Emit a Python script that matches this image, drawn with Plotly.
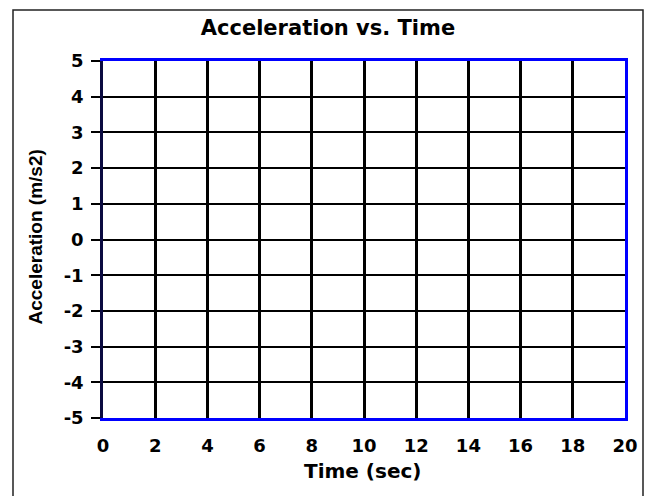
import plotly.graph_objects as go

# Data / tick definitions
time_ticks = [0, 2, 4, 6, 8, 10, 12, 14, 16, 18, 20]
accel_ticks = [-5, -4, -3, -2, -1, 0, 1, 2, 3, 4, 5]
chart_title = "Acceleration vs. Time"
x_title = "Time (sec)"
y_title = "Acceleration (m/s2)"

W, H = 651, 496
L, R, T, B = 103, 26, 61, 78
pw = W - L - R
ph = H - T - B

def px_x(x):
    return (x - L) / pw

def px_y(y):
    return (H - B - y) / ph

fig = go.Figure()
fig.add_trace(go.Scatter(x=time_ticks, y=[None] * len(time_ticks),
                         mode="lines", showlegend=False, hoverinfo="skip"))
fig.add_trace(go.Scatter(x=time_ticks, y=[None] * len(time_ticks), yaxis="y2",
                         mode="lines", showlegend=False, hoverinfo="skip"))

tick_font = dict(family="DejaVu Sans", size=18, color="black", weight="bold")

fig.update_layout(
    width=W, height=H,
    margin=dict(l=L, r=R, t=T, b=B, pad=0),
    paper_bgcolor="white", plot_bgcolor="white",
    showlegend=False,
    title=dict(text=chart_title, x=px_x(328), xref="paper", xanchor="center",
               y=1 - 27.5 / H, yref="container", yanchor="middle",
               font=dict(family="DejaVu Sans", size=21, color="black", weight="bold")),
    xaxis=dict(range=[time_ticks[0], time_ticks[-1]], tickvals=time_ticks,
               ticktext=[str(v) for v in time_ticks],
               showgrid=True, gridcolor="black", gridwidth=2.5,
               zeroline=False,
               showline=True, linecolor="#0000ff", linewidth=2.5, mirror=True,
               ticks="", ticklabelstandoff=10, tickfont=tick_font, fixedrange=True),
    yaxis=dict(range=[accel_ticks[0], accel_ticks[-1]], tickvals=accel_ticks,
               ticktext=[str(v) for v in accel_ticks],
               showgrid=True, gridcolor="black", gridwidth=2,
               zeroline=False,
               showline=True, linecolor="#0a0a40", linewidth=2.5, mirror=False,
               ticks="outside", ticklen=9, tickwidth=2, tickcolor="black",
               ticklabelstandoff=4, tickfont=tick_font, fixedrange=True),
    yaxis2=dict(range=[accel_ticks[0], accel_ticks[-1]], overlaying="y", side="right",
                showgrid=False, zeroline=False, showticklabels=False, ticks="",
                showline=True, linecolor="#0000ff", linewidth=3, fixedrange=True),
    annotations=[
        dict(text=x_title, x=px_x(362.5), y=px_y(471), xref="paper", yref="paper",
             xanchor="center", yanchor="middle", showarrow=False,
             font=dict(family="DejaVu Sans", size=20, color="black", weight="bold")),
        dict(text=y_title, x=px_x(35), y=px_y(237.5), xref="paper", yref="paper",
             xanchor="center", yanchor="middle", showarrow=False, textangle=-90,
             font=dict(family="Liberation Sans", size=19, color="black", weight="bold")),
    ],
    shapes=[
        dict(type="rect", xref="paper", yref="paper",
             x0=px_x(13), x1=px_x(643), y0=px_y(505), y1=px_y(10),
             line=dict(color="#222222", width=1.5), fillcolor="rgba(0,0,0,0)",
             layer="below"),
    ],
)

fig.write_html("out.html", config={"displayModeBar": False},
               post_script="document.body.style.margin='0';document.body.style.overflow='hidden';")
